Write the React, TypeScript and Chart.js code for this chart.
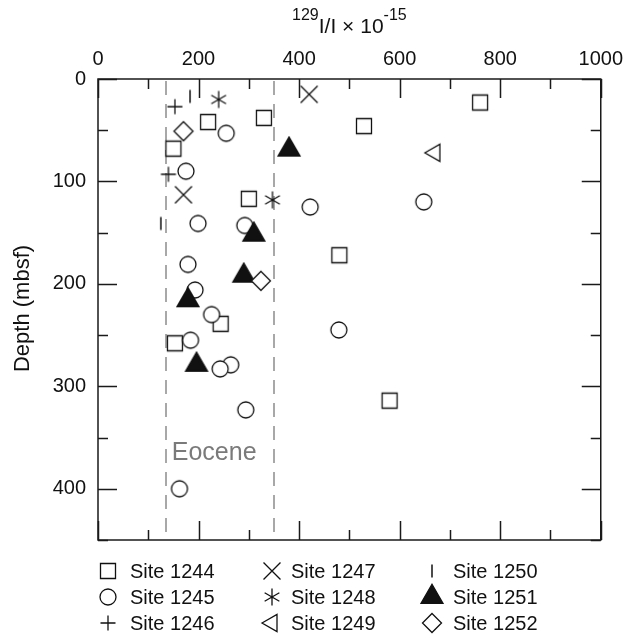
import React, { useEffect, useRef } from 'react';
import { Chart, registerables } from 'chart.js';

Chart.register(...registerables);

// ---------------- data ----------------
const SITE_NAMES = ['Site 1244', 'Site 1245', 'Site 1246', 'Site 1247', 'Site 1248', 'Site 1249', 'Site 1250', 'Site 1251', 'Site 1252'];
const SITE_SYMBOLS = ['square', 'circle', 'plus', 'cross', 'asterisk', 'triangleLeft', 'bar', 'triangleFilled', 'diamond'];

const S1244_X = [760, 219, 330, 529, 150, 300, 480, 244, 153, 580];
const S1244_Y = [23, 42, 38, 46, 68, 117, 172, 239, 258, 314];
const S1245_X = [255, 175, 648, 422, 199, 292, 179, 193, 226, 479, 184, 264, 243, 294, 162];
const S1245_Y = [53, 90, 120, 125, 141, 143, 181, 206, 230, 245, 255, 279, 283, 323, 400];
const S1246_X = [153, 140];
const S1246_Y = [27, 93];
const S1247_X = [420, 170];
const S1247_Y = [15, 113];
const S1248_X = [240, 347];
const S1248_Y = [20, 118];
const S1249_X = [670];
const S1249_Y = [72];
const S1250_X = [183, 125];
const S1250_Y = [17, 141];
const S1251_X = [380, 310, 290, 179, 196];
const S1251_Y = [69, 152, 192, 216, 279];
const S1252_X = [170, 324];
const S1252_Y = [51, 197];

const SITE_X = [S1244_X, S1245_X, S1246_X, S1247_X, S1248_X, S1249_X, S1250_X, S1251_X, S1252_X];
const SITE_Y = [S1244_Y, S1245_Y, S1246_Y, S1247_Y, S1248_Y, S1249_Y, S1250_Y, S1251_Y, S1252_Y];

const X_TICK_LABELS = ['0', '200', '400', '600', '800', '1000'];
const Y_TICK_LABELS = ['0', '100', '200', '300', '400'];
const X_MIN = 0;
const X_MAX = 1000;
const Y_MIN = 0;
const Y_MAX = 450;

const EOCENE_BOUNDS = [135, 350];
const EOCENE_LABEL = 'Eocene';
const EOCENE_LABEL_AT = [231, 372];

const X_TITLE_PARTS = ['129', 'I/I \u00d7 10', '-15'];
const Y_TITLE = 'Depth (mbsf)';

// ---------------- styling ----------------
const FONT = '"Liberation Sans", Arial, Helvetica, sans-serif';
const INK = '#111111';

function makeSymbol(kind: string): HTMLCanvasElement {
  const s = 28;
  const c = document.createElement('canvas');
  c.width = s;
  c.height = s;
  const g = c.getContext('2d') as CanvasRenderingContext2D;
  const m = s / 2;
  g.lineWidth = 1.3;
  g.strokeStyle = INK;
  g.fillStyle = '#ffffff';
  g.lineJoin = 'miter';
  g.beginPath();
  const line = (a: number, len: number) => {
    const dx = Math.cos(a) * len;
    const dy = Math.sin(a) * len;
    g.moveTo(m - dx, m - dy);
    g.lineTo(m + dx, m + dy);
  };
  switch (kind) {
    case 'square':
      g.rect(m - 7.5, m - 7.5, 15, 15);
      g.fill();
      g.stroke();
      break;
    case 'circle':
      g.arc(m, m, 8, 0, Math.PI * 2);
      g.fill();
      g.stroke();
      break;
    case 'plus':
      line(0, 7.5);
      line(Math.PI / 2, 7.5);
      g.stroke();
      break;
    case 'cross':
      line(Math.PI / 4, 12);
      line(-Math.PI / 4, 12);
      g.stroke();
      break;
    case 'asterisk':
      line(Math.PI / 2, 8.5);
      line(Math.PI / 6, 8.5);
      line(-Math.PI / 6, 8.5);
      g.stroke();
      break;
    case 'bar':
      line(Math.PI / 2, 6.5);
      g.lineWidth = 1.5;
      g.stroke();
      break;
    case 'triangleFilled': {
      const r = 12.7;
      const c30 = Math.cos(Math.PI / 6) * r;
      g.moveTo(m, m - r);
      g.lineTo(m + c30, m + r / 2);
      g.lineTo(m - c30, m + r / 2);
      g.closePath();
      g.fillStyle = INK;
      g.fill();
      g.stroke();
      break;
    }
    case 'triangleLeft': {
      const r = 10;
      const c30 = Math.cos(Math.PI / 6) * r;
      g.moveTo(m - r, m);
      g.lineTo(m + r / 2, m - c30);
      g.lineTo(m + r / 2, m + c30);
      g.closePath();
      g.fill();
      g.stroke();
      break;
    }
    case 'diamond':
      g.moveTo(m, m - 9.5);
      g.lineTo(m + 9.5, m);
      g.lineTo(m, m + 9.5);
      g.lineTo(m - 9.5, m);
      g.closePath();
      g.fill();
      g.stroke();
      break;
  }
  return c;
}

const decorPlugin = {
  id: 'decor',
  beforeDatasetsDraw(chart: any) {
    const { ctx, chartArea: a, scales } = chart;
    const x = scales.x;
    const y = scales.y;
    ctx.save();
    ctx.strokeStyle = '#a8a8a8';
    ctx.lineWidth = 2;
    ctx.setLineDash([14, 9]);
    EOCENE_BOUNDS.forEach((v) => {
      const px = Math.round(x.getPixelForValue(v));
      ctx.beginPath();
      ctx.moveTo(px, a.top + 2);
      ctx.lineTo(px, a.bottom);
      ctx.stroke();
    });
    ctx.setLineDash([]);
    ctx.fillStyle = '#7a7a7a';
    ctx.font = `25px ${FONT}`;
    ctx.textAlign = 'center';
    ctx.textBaseline = 'alphabetic';
    ctx.fillText(EOCENE_LABEL, x.getPixelForValue(EOCENE_LABEL_AT[0]), y.getPixelForValue(EOCENE_LABEL_AT[1]));
    ctx.restore();
  },
  afterDatasetsDraw(chart: any) {
    const { ctx, chartArea: a, scales } = chart;
    const x = scales.x;
    const y = scales.y;
    ctx.save();
    ctx.strokeStyle = '#1a1a1a';
    ctx.lineWidth = 1.5;
    ctx.strokeRect(a.left, a.top, a.right - a.left, a.bottom - a.top);
    ctx.beginPath();
    x.ticks.forEach((t: any) => {
      const px = Math.round(x.getPixelForValue(t.value)) + 0.5;
      const len = X_TICK_LABELS.includes(String(t.value)) ? 19 : 10;
      ctx.moveTo(px, a.top);
      ctx.lineTo(px, a.top + len);
      ctx.moveTo(px, a.bottom);
      ctx.lineTo(px, a.bottom - len);
    });
    y.ticks.forEach((t: any) => {
      const py = Math.round(y.getPixelForValue(t.value)) + 0.5;
      const len = Y_TICK_LABELS.includes(String(t.value)) ? 19 : 10;
      ctx.moveTo(a.left, py);
      ctx.lineTo(a.left + len, py);
      ctx.moveTo(a.right, py);
      ctx.lineTo(a.right - len, py);
    });
    ctx.stroke();
    ctx.restore();
  },
  afterDraw(chart: any) {
    const { ctx, chartArea: a } = chart;
    ctx.save();
    ctx.fillStyle = INK;
    // top axis title with superscripts
    const mainFont = `21px ${FONT}`;
    const supFont = `16px ${FONT}`;
    ctx.font = supFont;
    const w0 = ctx.measureText(X_TITLE_PARTS[0]).width;
    const w2 = ctx.measureText(X_TITLE_PARTS[2]).width;
    ctx.font = mainFont;
    const w1 = ctx.measureText(X_TITLE_PARTS[1]).width;
    let cx = (a.left + a.right) / 2 - (w0 + w1 + w2) / 2;
    ctx.textAlign = 'left';
    ctx.textBaseline = 'alphabetic';
    ctx.font = supFont;
    ctx.fillText(X_TITLE_PARTS[0], cx, 20);
    cx += w0;
    ctx.font = mainFont;
    ctx.fillText(X_TITLE_PARTS[1], cx, 33);
    cx += w1;
    ctx.font = supFont;
    ctx.fillText(X_TITLE_PARTS[2], cx, 20);
    // left axis title
    ctx.save();
    ctx.translate(23, (a.top + a.bottom) / 2 - 1);
    ctx.rotate(-Math.PI / 2);
    ctx.font = `22px ${FONT}`;
    ctx.textAlign = 'center';
    ctx.textBaseline = 'middle';
    ctx.fillText(Y_TITLE, 0, 0);
    ctx.restore();
    // legend: three columns, filled column by column
    const colSym = [108, 272, 432];
    const colText = [130, 291, 453];
    const rowY = [571, 597, 623];
    ctx.font = `20px ${FONT}`;
    ctx.textAlign = 'left';
    ctx.textBaseline = 'middle';
    chart.data.datasets.forEach((ds: any, i: number) => {
      const col = Math.floor(i / 3);
      const row = i % 3;
      const img = ds.pointStyle as HTMLCanvasElement;
      ctx.drawImage(img, Math.round(colSym[col] - img.width / 2), Math.round(rowY[row] - img.height / 2));
      ctx.fillText(ds.label, colText[col], rowY[row] + 1);
    });
    ctx.restore();
  },
};

export default function App() {
  const ref = useRef<HTMLCanvasElement | null>(null);
  useEffect(() => {
    if (!ref.current) return;
    const datasets = SITE_NAMES.map((name, i) => ({
      label: name,
      data: SITE_X[i].map((xv, j) => ({ x: xv, y: SITE_Y[i][j] })),
      pointStyle: makeSymbol(SITE_SYMBOLS[i]),
      pointRadius: 8,
      pointHoverRadius: 8,
      showLine: false,
      order: SITE_NAMES.length - i,
    }));
    const chart = new Chart(ref.current, {
      type: 'scatter',
      data: { datasets } as any,
      options: {
        animation: false,
        responsive: false,
        maintainAspectRatio: false,
        events: [],
        layout: { padding: { top: 0, left: 0, right: 25, bottom: 100 } },
        plugins: {
          legend: { display: false },
          tooltip: { enabled: false },
          title: { display: false },
        },
        scales: {
          x: {
            type: 'linear',
            position: 'top',
            min: X_MIN,
            max: X_MAX,
            grid: { display: false, drawTicks: false },
            border: { display: false },
            ticks: {
              stepSize: 100,
              autoSkip: false,
              maxRotation: 0,
              padding: 8,
              color: INK,
              font: { family: FONT, size: 20 },
              callback: (v: any) => (X_TICK_LABELS.includes(String(v)) ? String(v) : ''),
            },
            afterFit: (s: any) => {
              s.height = 79;
            },
          },
          y: {
            type: 'linear',
            position: 'left',
            reverse: true,
            min: Y_MIN,
            max: Y_MAX,
            grid: { display: false, drawTicks: false },
            border: { display: false },
            ticks: {
              stepSize: 50,
              autoSkip: false,
              padding: 12,
              color: INK,
              font: { family: FONT, size: 20 },
              callback: (v: any) => (Y_TICK_LABELS.includes(String(v)) ? String(v) : ''),
            },
            afterFit: (s: any) => {
              s.width = 98;
            },
          },
        },
      } as any,
      plugins: [decorPlugin],
    });
    return () => chart.destroy();
  }, []);
  return (
    <div style={{ position: 'absolute', left: 0, top: 0, width: 631, height: 640, background: '#fff' }}>
      <canvas ref={ref} width={631} height={640} style={{ display: 'block' }} />
    </div>
  );
}
